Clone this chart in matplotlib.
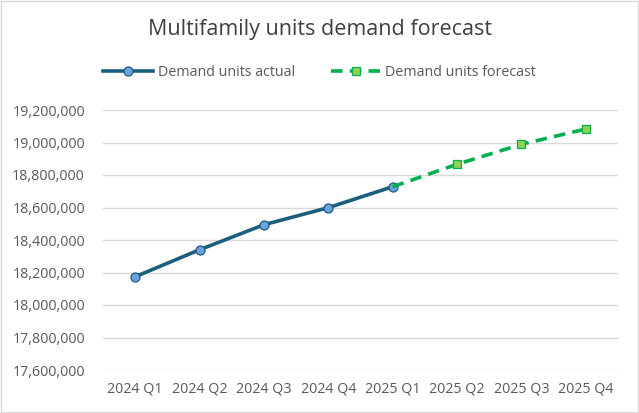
import matplotlib
matplotlib.use('Agg')
import matplotlib.pyplot as plt
import numpy as np
from matplotlib.ticker import FuncFormatter, MultipleLocator

plt.rcParams['font.family'] = ['Open Sans', 'DejaVu Sans']

# data
quarters = ['2024 Q1', '2024 Q2', '2024 Q3', '2024 Q4',
            '2025 Q1', '2025 Q2', '2025 Q3', '2025 Q4']
actual = [18174000, 18340000, 18494000, 18599000, 18728000,
          np.nan, np.nan, np.nan]
forecast = [np.nan, np.nan, np.nan, np.nan, 18728000,
            18866000, 18989000, 19083000]

fig = plt.figure(figsize=(6.39, 4.13), dpi=100)
ax = fig.add_axes([103 / 639, 1 - 370 / 413, 515 / 639, 260 / 413])

x = np.arange(len(quarters))
ax.plot(x, actual, color='#1b5e7e', lw=2.6, marker='o', markersize=6.5,
        markerfacecolor='#69a3dc', markeredgecolor='#1f5a86',
        markeredgewidth=0.9, label='Demand units actual', zorder=3)
ax.plot(x, forecast, color='#00b050', lw=2.6, linestyle=(0, (3.2, 2.0)),
        marker='s', markersize=6, markevery=[5, 6, 7],
        markerfacecolor='#92d050', markeredgecolor='#00b050',
        markeredgewidth=0.9, label='Demand units forecast', zorder=3)

ax.set_xlim(-0.5, len(quarters) - 0.5)
ax.set_ylim(17600000, 19200000)
ax.yaxis.set_major_locator(MultipleLocator(200000))
ax.yaxis.set_major_formatter(FuncFormatter(lambda v, p: f'{v:,.0f}'))
ax.set_xticks(x)
ax.set_xticklabels(quarters)
ax.grid(axis='y', color='#d9d9d9', lw=1, zorder=0)
for s in ax.spines.values():
    s.set_visible(False)
ax.tick_params(length=0, labelsize=10.3, colors='#595959')
ax.tick_params(axis='y', pad=13)
ax.tick_params(axis='x', pad=8)

fig.text(0.5, 1 - 30 / 413, 'Multifamily units demand forecast', ha='center',
         va='center', fontsize=15.5, color='#404040')
fig.legend(loc='center', bbox_to_anchor=(0.5, 1 - 73 / 413), ncol=2,
           frameon=False, fontsize=10.3, labelcolor='#595959',
           handlelength=3.5, columnspacing=2.5, handletextpad=0.3)

fig.patches.append(plt.Rectangle((0.001, 0.002), 0.997, 0.996, transform=fig.transFigure,
                                 fill=False, edgecolor='#d9d9d9', lw=1))

fig.savefig('out.png', dpi=100)
